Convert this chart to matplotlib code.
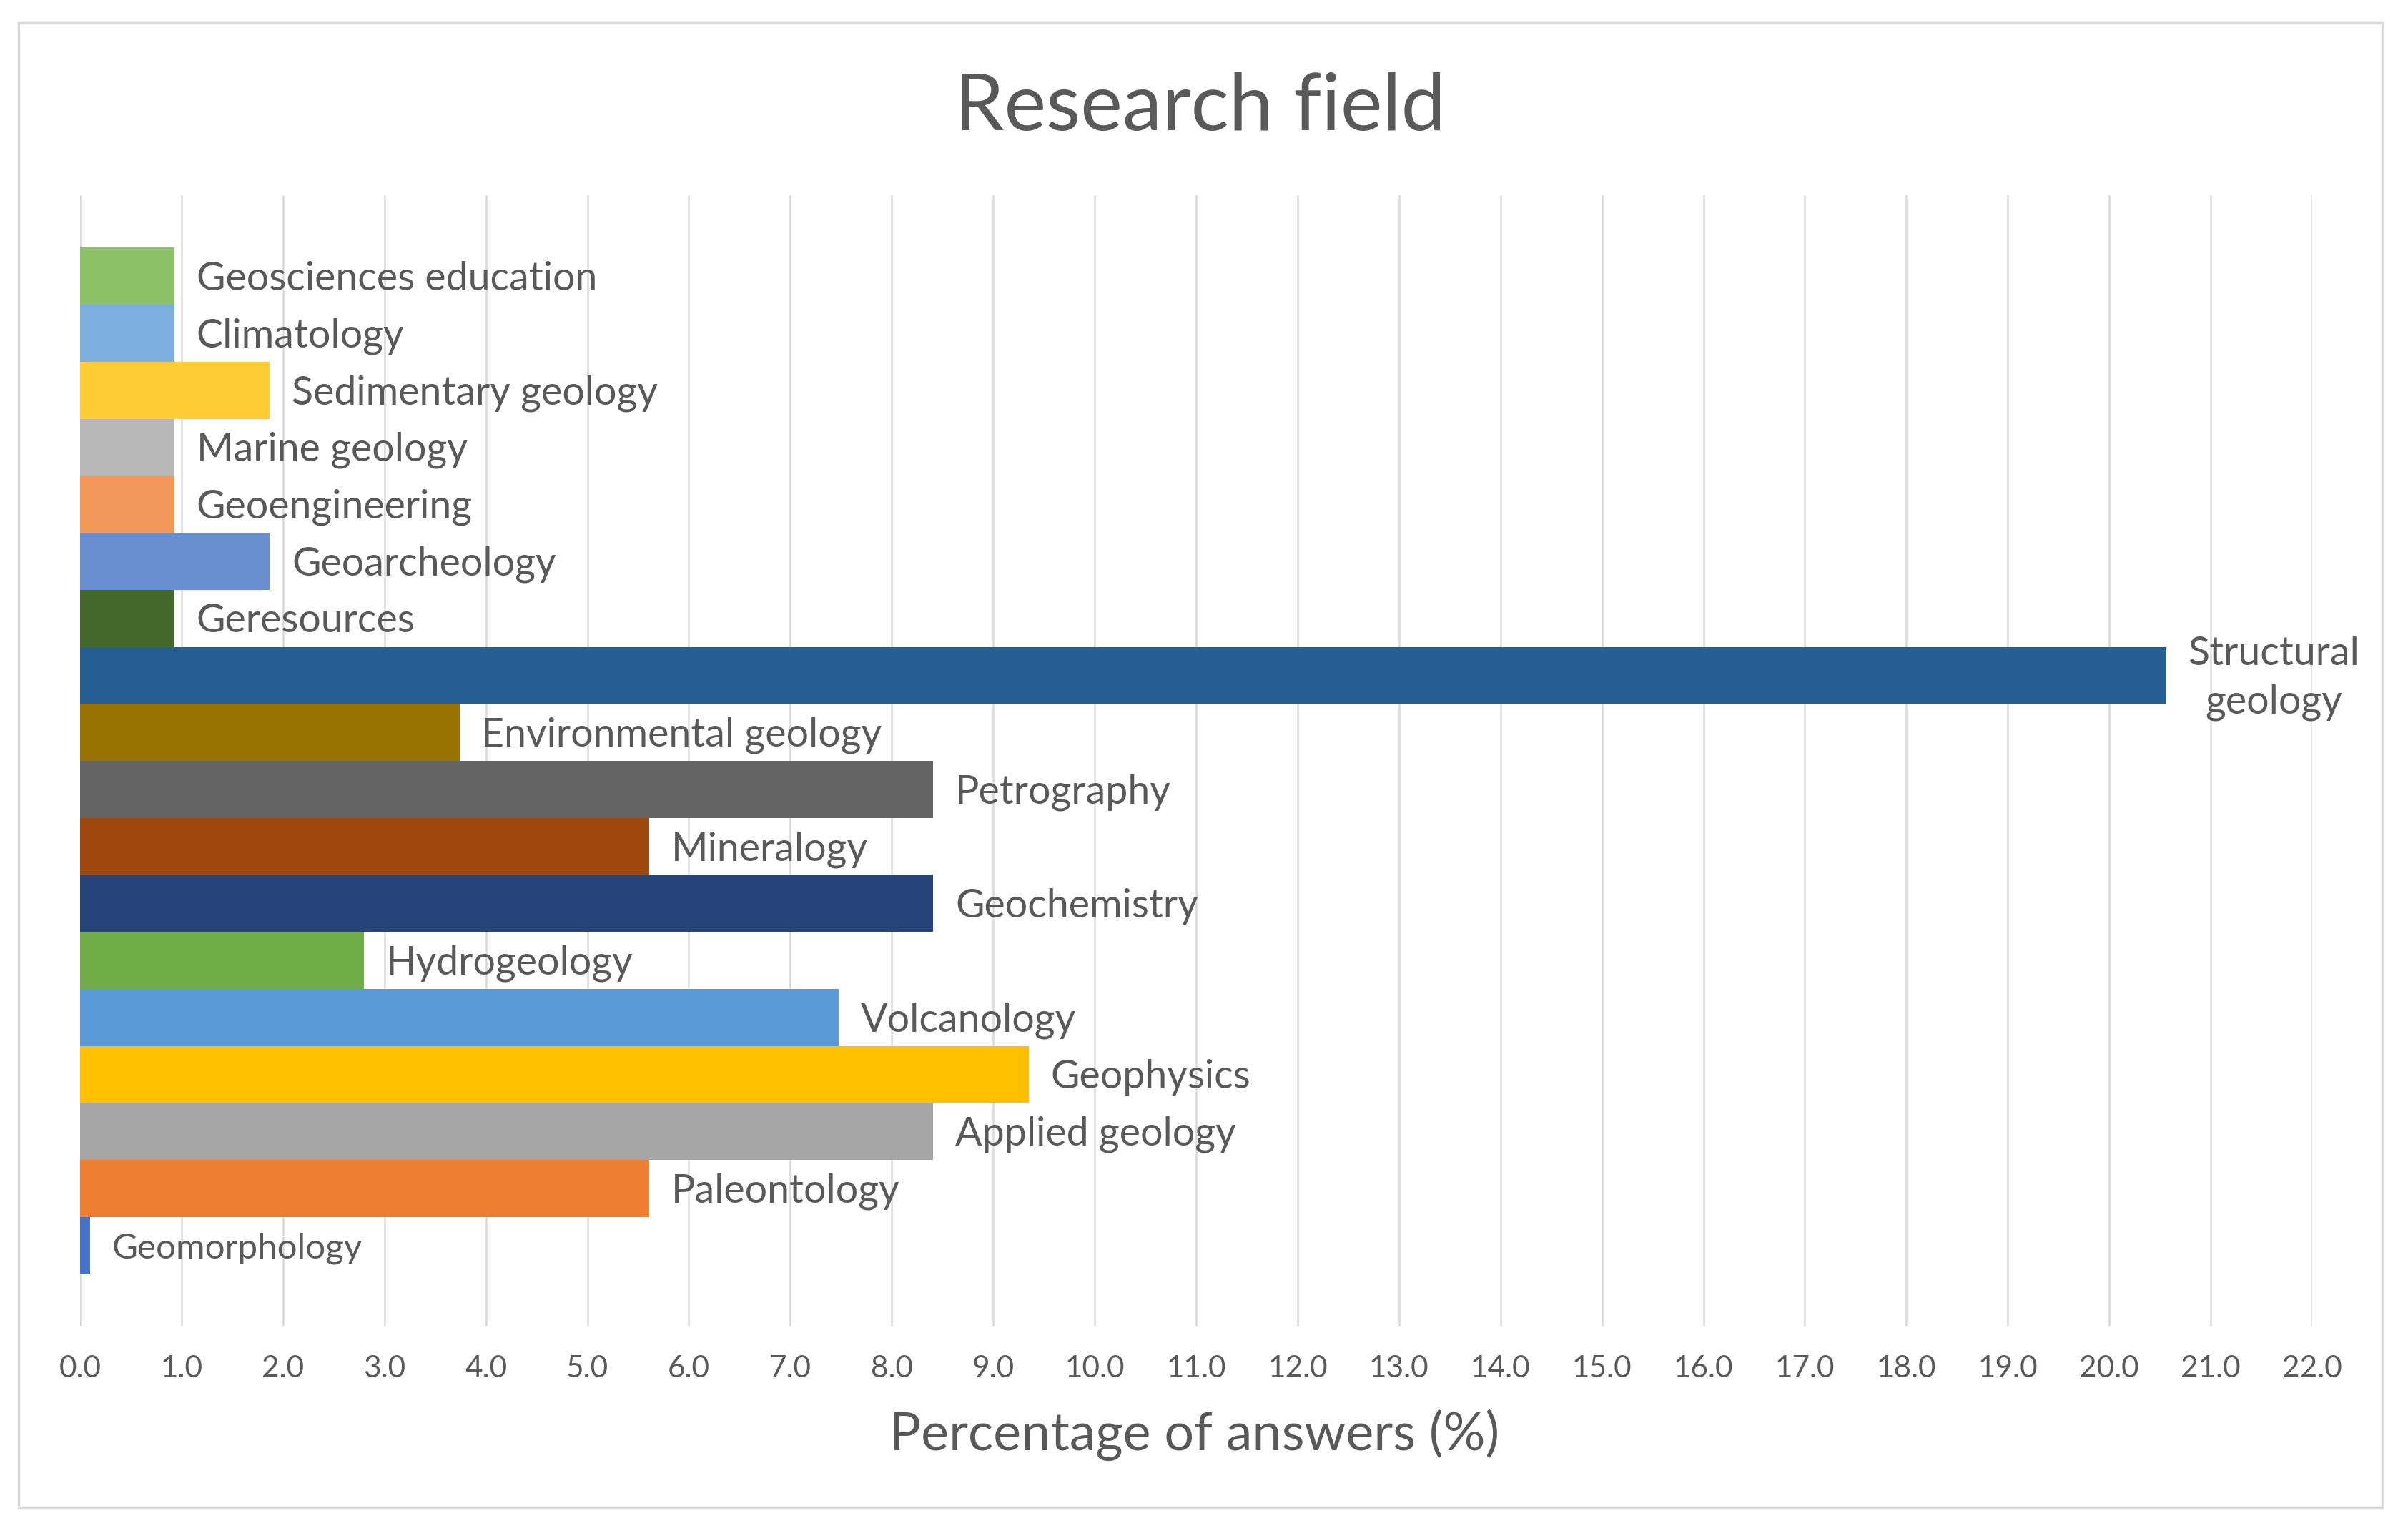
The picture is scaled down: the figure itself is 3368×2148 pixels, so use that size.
import matplotlib
matplotlib.use('Agg')
import matplotlib.pyplot as plt
from matplotlib.patches import Rectangle

# ============== data (bottom -> top) ==============
fields = ['Geomorphology', 'Paleontology', 'Applied geology', 'Geophysics',
          'Volcanology', 'Hydrogeology', 'Geochemistry', 'Mineralogy',
          'Petrography', 'Environmental geology', 'Structural\ngeology',
          'Geresources', 'Geoarcheology', 'Geoengineering', 'Marine geology',
          'Sedimentary geology', 'Climatology', 'Geosciences education']
percent = [0.1, 5.61, 8.41, 9.35, 7.48, 2.80, 8.41, 5.61, 8.41, 3.74, 20.56,
           0.93, 1.87, 0.93, 0.93, 1.87, 0.93, 0.93]
colors = ['#4472C4', '#ED7D31', '#A5A5A5', '#FFC000', '#5B9BD5', '#70AD47',
          '#264478', '#9E480E', '#636363', '#997300', '#255E91', '#43682B',
          '#698ED0', '#F1975A', '#B7B7B7', '#FFCD33', '#7CAFDD', '#8CC168']
xticks = list(range(0, 23))

TEXT = '#595959'
plt.rcParams['font.family'] = ['Lato', 'DejaVu Sans']

W, H = 3368, 2148
fig = plt.figure(figsize=(W / 100, H / 100), dpi=100, facecolor='white')

# outer chart border
fig.patches.append(Rectangle((26 / W, 1 - 2108 / H), (3332 - 26) / W, (2108 - 32) / H,
                             transform=fig.transFigure, fill=False,
                             edgecolor='#d9d9d9', linewidth=2.5))

ax = fig.add_axes([112 / W, 1 - 1855 / H, (3234 - 112) / W, (1855 - 273) / H])
ypos = list(range(len(fields)))
ax.barh(ypos, percent, height=1.0, color=colors, zorder=3)

ax.set_xlim(0, 22)
ax.set_ylim(-0.5 - 0.92, len(fields) - 0.5 + 0.92)
ax.set_xticks(xticks)
ax.set_xticklabels([f'{v:.1f}' for v in xticks])
ax.set_yticks([])
ax.tick_params(axis='x', length=0, pad=29, labelsize=30.5, labelcolor=TEXT)
ax.grid(axis='x', color='#d9d9d9', linewidth=1.8, zorder=0)
for s in ax.spines.values():
    s.set_visible(False)

# data labels (outside end)
for y, v, name in zip(ypos, percent, fields):
    size = 35.5 if name == 'Geomorphology' else 40
    ax.annotate(name, (v, y), xytext=(22, -3), textcoords='offset points',
                ha='left', va='center', fontsize=size, color=TEXT,
                multialignment='center', linespacing=1.4, annotation_clip=False)

fig.text(1678 / W, 1 - 182 / H, 'Research field', ha='center', va='baseline',
         fontsize=80, color=TEXT)
fig.text(1671 / W, 1 - 2028 / H, 'Percentage of answers (%)', ha='center',
         va='baseline', fontsize=53, color=TEXT)

fig.savefig('out.png', dpi=100, facecolor='white')
